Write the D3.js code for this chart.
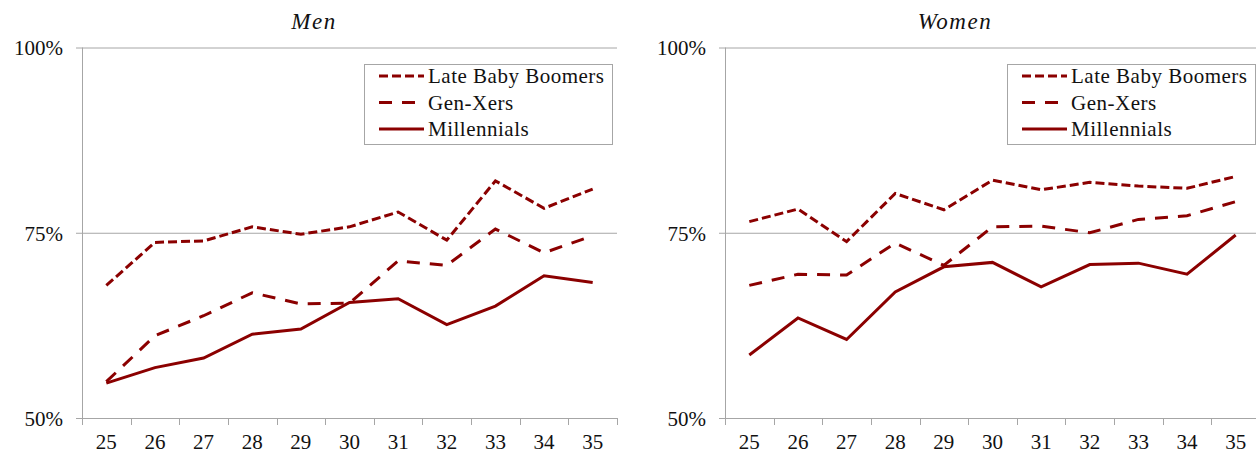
<!doctype html>
<html>
<head>
  <meta charset="utf-8">
  <title>Share by age and generation</title>
  <script src="https://cdnjs.cloudflare.com/ajax/libs/d3/7.8.5/d3.min.js"></script>
  <style>
    html, body { margin: 0; padding: 0; background: #fff; }
    .domain, .tick line { stroke: #a6a6a6; }
  </style>
</head>
<body>
<div id="chart"></div>
<script>
  // ages on the x axis
  const ages = [25, 26, 27, 28, 29, 30, 31, 32, 33, 34, 35];
  const yTicks = [0.5, 0.75, 1];

  const seriesNames = ["Late Baby Boomers", "Gen-Xers", "Millennials"];

  // Men
  const menBoomers = [67.9, 73.7, 73.9, 75.8, 74.8, 75.8, 77.8, 74.0, 82.0, 78.3, 80.9];
  const menGenX = [54.9, 61.1, 63.8, 66.9, 65.4, 65.5, 71.2, 70.6, 75.5, 72.3, 74.6];
  const menMillennials = [54.7, 56.8, 58.1, 61.3, 62.0, 65.6, 66.1, 62.6, 65.1, 69.2, 68.3];

  // Women
  const womenBoomers = [76.5, 78.2, 73.8, 80.3, 78.1, 82.1, 80.8, 81.8, 81.3, 81.0, 82.6];
  const womenGenX = [67.9, 69.4, 69.3, 73.6, 70.6, 75.8, 75.9, 75.0, 76.8, 77.3, 79.2];
  const womenMillennials = [58.5, 63.5, 60.6, 67.0, 70.4, 71.0, 67.7, 70.7, 70.9, 69.4, 74.7];

  const panels = [
    { title: "Men", left: 82, titleX: 314, series: [menBoomers, menGenX, menMillennials], legendX: 364 },
    { title: "Women", left: 725, titleX: 955, series: [womenBoomers, womenGenX, womenMillennials], legendX: 1007 }
  ];

  const font = '"Liberation Serif", "DejaVu Serif", serif';
  const dashes = ["9,4", "13,10", null];
  const lineColor = "#8b0000";
  const plotW = 535, plotTop = 47.5, plotBottom = 418;

  const svg = d3.select('#chart')
    .append('svg')
    .attr('width', 1256)
    .attr('height', 457);

  panels.forEach(p => {
    const g = svg.append('g');

    const x = d3.scaleBand().domain(ages).range([p.left, p.left + plotW]);
    const y = d3.scaleLinear().domain([0.5, 1]).range([plotBottom, plotTop]);

    // title
    g.append('text')
      .attr('x', p.titleX)
      .attr('y', 29)
      .attr('text-anchor', 'middle')
      .style('font-family', font)
      .style('font-style', 'italic')
      .style('font-size', '23px')
      .style('letter-spacing', '1.5px')
      .style('fill', '#111')
      .text(p.title);

    // gridlines
    g.append('g')
      .attr('transform', `translate(${p.left},0)`)
      .call(d3.axisLeft(y).tickValues(yTicks.slice(1)).tickSize(-plotW).tickFormat(''))
      .call(s => s.select('.domain').remove());

    // y axis
    g.append('g')
      .attr('transform', `translate(${p.left},0)`)
      .call(d3.axisLeft(y).tickValues(yTicks).tickSize(6).tickPadding(13).tickFormat(d3.format('.0%')))
      .call(s => s.select('.domain').attr('d', `M0.5,${plotTop}V${plotBottom}`))
      .call(s => s.selectAll('text')
        .style('font-family', font).style('font-size', '21px').style('fill', '#111').attr('dy', '0.35em'));

    // x axis: labels in band centres, tick marks on band edges
    const xa = g.append('g')
      .attr('transform', `translate(0,${plotBottom})`)
      .call(d3.axisBottom(x).tickSize(0).tickPadding(16))
      .call(s => s.select('.domain').attr('d', `M${p.left - 6},0.5H${p.left + plotW}`))
      .call(s => s.selectAll('text')
        .style('font-family', font).style('font-size', '21px').style('fill', '#111'));

    xa.selectAll('line.edge')
      .data(ages.map(a => x(a)).concat([p.left + plotW]))
      .join('line')
      .attr('class', 'edge')
      .attr('x1', d => Math.round(d) + 0.5)
      .attr('x2', d => Math.round(d) + 0.5)
      .attr('y1', 0)
      .attr('y2', 7)
      .style('stroke', '#a6a6a6');

    // lines
    const line = d3.line()
      .x((d, i) => x(ages[i]) + x.bandwidth() / 2)
      .y(d => y(d / 100));

    g.selectAll('path.series')
      .data(p.series)
      .join('path')
      .attr('class', 'series')
      .attr('d', line)
      .style('fill', 'none')
      .style('stroke', lineColor)
      .style('stroke-width', 3)
      .style('stroke-dasharray', (d, i) => dashes[i]);

    // legend
    const lg = g.append('g').attr('transform', `translate(${p.legendX},64)`);
    lg.append('rect')
      .attr('x', 0.5).attr('y', 0.5)
      .attr('width', 248).attr('height', 80)
      .style('fill', '#fff')
      .style('stroke', '#a6a6a6');

    const items = lg.selectAll('g.item')
      .data(seriesNames)
      .join('g')
      .attr('class', 'item')
      .attr('transform', (d, i) => `translate(0,${12 + i * 26.5})`);

    items.append('line')
      .attr('x1', 15).attr('x2', 60)
      .style('stroke', lineColor)
      .style('stroke-width', 3)
      .style('stroke-dasharray', (d, i) => dashes[i]);

    items.append('text')
      .attr('x', 64)
      .attr('y', 7)
      .style('font-family', font)
      .style('font-size', '21px')
      .style('letter-spacing', '0.5px')
      .style('fill', '#111')
      .text(d => d);
  });
</script>
</body>
</html>
